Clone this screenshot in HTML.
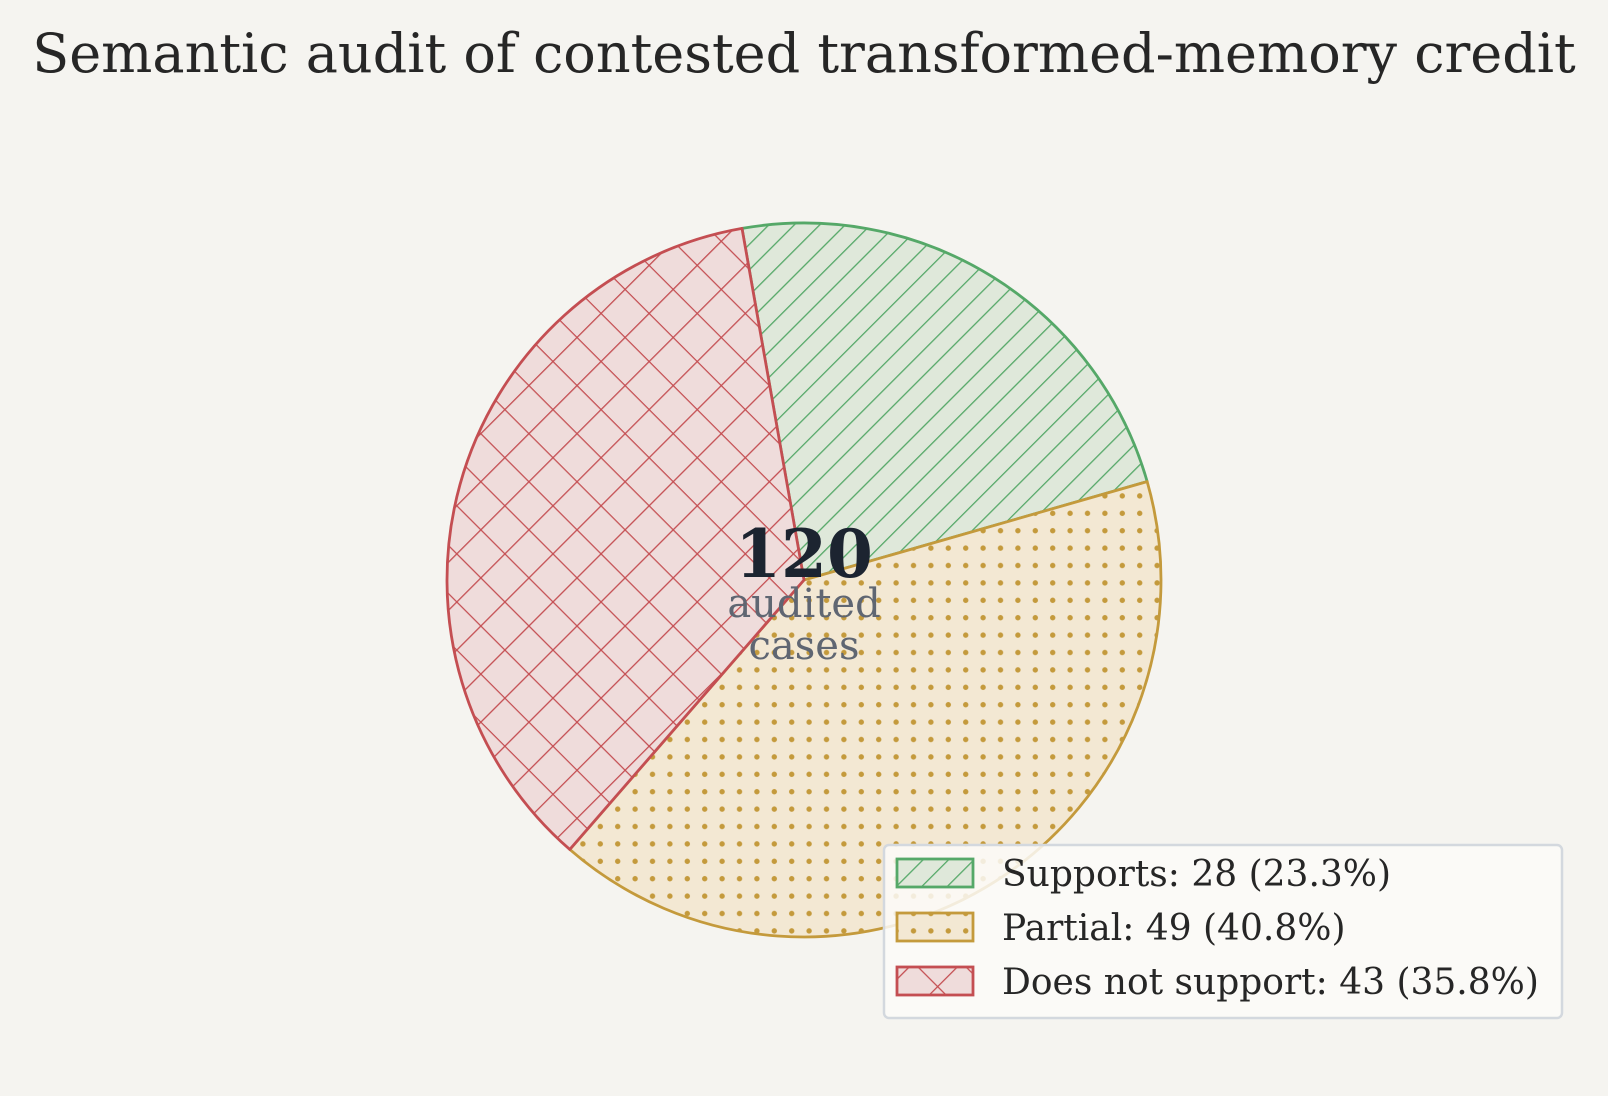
<!DOCTYPE html>
<html><head><meta charset="utf-8"><style>
html,body{margin:0;padding:0;background:#f5f4f0;}
svg{display:block;font-family:"DejaVu Serif","Liberation Serif",serif;}
</style></head><body>
<svg width="1608" height="1096" viewBox="0 0 1608 1096">
<defs>
<pattern id="hg" width="18" height="18" patternUnits="userSpaceOnUse" patternTransform="rotate(45)">
<rect width="18" height="18" fill="#dfe8da"/><line x1="0" y1="0" x2="0" y2="18" stroke="#55a868" stroke-width="2.6"/></pattern>
<pattern id="hy" width="17.4" height="17.4" patternUnits="userSpaceOnUse">
<rect width="17.4" height="17.4" fill="#f3e8d3"/><circle cx="8.7" cy="8.7" r="2.7" fill="#c49a3c"/></pattern>
<pattern id="hr" width="34" height="34" patternUnits="userSpaceOnUse" patternTransform="rotate(45)">
<rect width="34" height="34" fill="#efdcdb"/><line x1="0" y1="0" x2="0" y2="34" stroke="#c44e52" stroke-width="2.6"/><line x1="0" y1="0" x2="34" y2="0" stroke="#c44e52" stroke-width="2.6"/></pattern>
</defs>
<text x="804" y="72" text-anchor="middle" font-size="54" fill="#262626">Semantic audit of contested transformed-memory credit</text>
<g id="pie"></g>
<text x="804" y="577" text-anchor="middle" font-size="66" font-weight="bold" fill="#1c2430">120</text>
<text x="804" y="617" text-anchor="middle" font-size="40" fill="#5f6672">audited</text>
<text x="804" y="659" text-anchor="middle" font-size="40" fill="#5f6672">cases</text>
<g>
<rect x="884" y="845" width="678" height="173" rx="5" fill="#fbfaf8" fill-opacity="0.85" stroke="#d3d8de" stroke-width="2.5"/>
<g id="leg"></g>
</g>
</svg>
<script>
const categories=["Supports","Partial","Does not support"];
const values=[28,49,43];
const fills=["url(#hg)","url(#hy)","url(#hr)"];
const strokes=["#55a868","#c49a3c","#c44e52"];
const NS="http://www.w3.org/2000/svg";
const cx=804,cy=580,r=357,start=100;
const total=values.reduce((a,b)=>a+b,0);
const pie=document.getElementById('pie');
let a=start;
function pt(deg){const t=deg*Math.PI/180;return [cx+r*Math.cos(t),cy-r*Math.sin(t)];}
values.forEach((v,i)=>{
  const sweep=v/total*360;const a2=a-sweep;
  const p1=pt(a),p2=pt(a2);
  const p=document.createElementNS(NS,'path');
  p.setAttribute('d',`M${cx},${cy} L${p1[0]},${p1[1]} A${r},${r} 0 ${sweep>180?1:0} 1 ${p2[0]},${p2[1]} Z`);
  p.setAttribute('fill',fills[i]);p.setAttribute('stroke',strokes[i]);p.setAttribute('stroke-width','2.8');
  p.setAttribute('stroke-linejoin','round');
  
  
  pie.appendChild(p);
  a=a2;
});
const leg=document.getElementById('leg');
values.forEach((v,i)=>{
  const y=859+i*54;
  const g=document.createElementNS(NS,'g');
  
  
  const rc=document.createElementNS(NS,'rect');
  rc.setAttribute('x',897);rc.setAttribute('y',y);rc.setAttribute('width',76);rc.setAttribute('height',28);
  rc.setAttribute('fill',fills[i]);rc.setAttribute('stroke',strokes[i]);rc.setAttribute('stroke-width','2.8');
  g.appendChild(rc);
  const t=document.createElementNS(NS,'text');
  t.setAttribute('x',1002);t.setAttribute('y',y+27);t.setAttribute('font-size','36');t.setAttribute('fill','#262626');
  t.textContent=`${categories[i]}: ${v} (${(v/total*100).toFixed(1)}%)`;
  g.appendChild(t);
  leg.appendChild(g);
});
</script>
</body></html>
